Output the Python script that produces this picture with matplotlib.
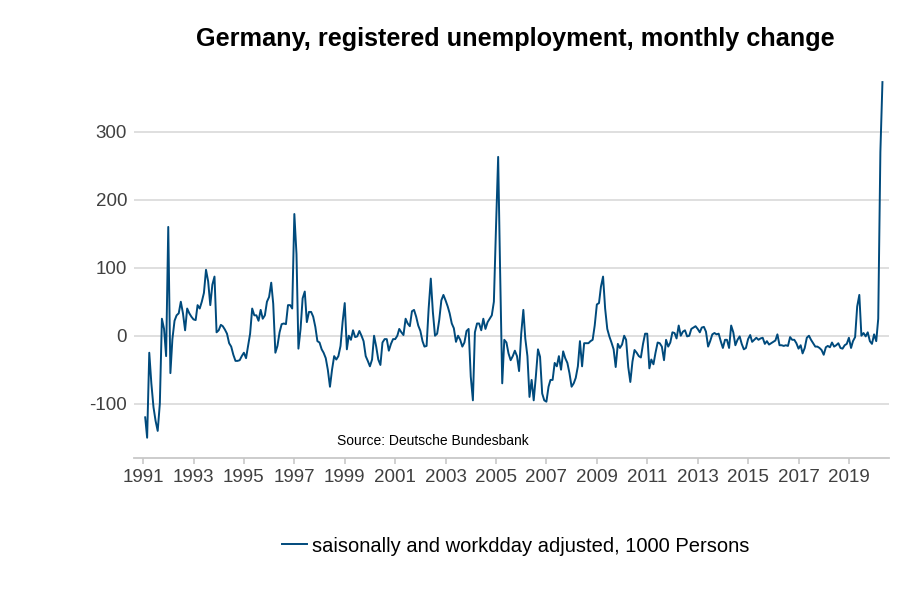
import matplotlib
matplotlib.use("Agg")
import matplotlib.pyplot as plt
import numpy as np
import pandas as pd

# monthly change of registered unemployment, 1000 persons
# 1991 starts in February
chg_1990s = [
    -120, -150, -25, -70, -105, -125, -140, -100, 25, 10, -30,           # 1991
    160, -55, -5, 22, 30, 33, 50, 33, 8, 40, 33, 28,                      # 1992
    24, 23, 45, 40, 50, 63, 97, 80, 45, 75, 87, 5,                        # 1993
    8, 16, 14, 9, 3, -11, -16, -28, -37, -37, -36, -30,                   # 1994
    -25, -33, -16, 3, 40, 30, 30, 22, 38, 25, 30, 50,                     # 1995
    57, 78, 47, -25, -15, 5, 17, 18, 17, 45, 45, 40,                      # 1996
    179, 120, -19, 10, 55, 65, 20, 35, 35, 28, 13, -8,                    # 1997
    -10, -20, -25, -33, -50, -75, -50, -30, -35, -30, -15, 20,            # 1998
    48, -20, 0, -6, 8, -2, -1, 7, 0, -8, -30, -37,                        # 1999
]
chg_2000s = [
    -45, -35, 0, -16, -35, -43, -10, -5, -5, -22, -12, -5,                # 2000
    -5, 0, 10, 5, 1, 25, 18, 14, 36, 38, 28, 15,                          # 2001
    7, -8, -16, -15, 40, 84, 35, 0, 3, 23, 52, 60,                        # 2002
    52, 43, 33, 18, 11, -9, 0, -6, -16, -10, 7, 10,                       # 2003
    -60, -95, 5, 18, 18, 8, 25, 10, 20, 25, 30, 50,                       # 2004
    160, 263, 97, -70, -6, -10, -26, -36, -30, -22, -30, -52,             # 2005
    3, 38, -4, -30, -90, -65, -95, -60, -20, -31, -85, -95,               # 2006
    -97, -75, -65, -65, -40, -45, -30, -50, -23, -33, -40, -55,           # 2007
    -75, -70, -62, -45, -8, -45, -11, -11, -11, -8, -6, 15,               # 2008
    46, 48, 72, 87, 40, 10, -1, -10, -20, -46, -12, -18,                  # 2009
]
chg_2010s = [
    -13, 0, -6, -46, -68, -38, -21, -25, -30, -32, -12, 3,                # 2010
    3, -48, -35, -42, -25, -10, -11, -16, -36, -6, -16, -10,              # 2011
    5, 4, -4, 15, 0, 6, 8, -1, 0, 10, 12, 14,                             # 2012
    10, 5, 12, 13, 6, -16, -8, 2, 4, 2, 3, -8,                            # 2013
    -18, -6, -6, -18, 15, 5, -14, -6, -1, -12, -20, -18,                  # 2014
    -5, 1, -9, -6, -3, -6, -4, -3, -12, -8, -13, -11,                     # 2015
    -9, -7, 2, -14, -14, -15, -14, -15, -2, -6, -6, -11,                  # 2016
    -19, -14, -26, -18, -3, 0, -6, -11, -16, -16, -18, -21,               # 2017
    -28, -17, -15, -17, -10, -16, -14, -11, -18, -19, -14, -12,           # 2018
    -3, -18, -8, -2, 43, 60, 0, 4, -1, 5, -8, -12,                        # 2019
]
chg_2020 = [2, -8, 25, 270, 373]

yticks = [-100, 0, 100, 200, 300]
tick_years = list(range(1991, 2021, 2))

TITLE = "Germany, registered unemployment, monthly change"
SOURCE = "Source: Deutsche Bundesbank"
SERIES = "saisonally and workdday adjusted, 1000 Persons"

LINE_COLOR = "#004A7C"
TEXT_GREY = "#404040"
GRID_GREY = "#D9D9D9"

plt.rcParams["font.family"] = ["Liberation Sans", "DejaVu Sans"]

values = np.array(chg_1990s + chg_2000s + chg_2010s + chg_2020, dtype=float)
dates = pd.date_range("1991-02-01", periods=len(values), freq="MS")

fig = plt.figure(figsize=(9.08, 6.04), dpi=100)
ax = fig.add_axes([0.1476, 0.2422, 0.8314, 0.6336])

ax.plot(dates, values, color=LINE_COLOR, lw=1.4, label=SERIES)

ax.set_ylim(-179.4, 383.4)
ax.set_xlim(pd.Timestamp("1990-08-23"), pd.Timestamp("2020-08-03"))

ax.set_yticks(yticks)
ax.set_yticklabels([str(v) for v in yticks])
ax.set_xticks([pd.Timestamp(f"{y}-01-01") for y in tick_years])
ax.set_xticklabels([str(y) for y in tick_years])

ax.grid(axis="y", color=GRID_GREY, lw=1.2)
ax.set_axisbelow(True)
for side in ["top", "right", "left"]:
    ax.spines[side].set_visible(False)
ax.spines["bottom"].set_color("#C8C8C8")
ax.spines["bottom"].set_linewidth(1.3)

ax.tick_params(axis="y", length=0, pad=5, labelsize=13.5, labelcolor=TEXT_GREY)
ax.tick_params(axis="x", length=4, width=1.2, color="#C8C8C8", pad=4,
               labelsize=13.5, labelcolor=TEXT_GREY)

fig.text(0.567, 0.935, TITLE, ha="center", va="center",
         fontsize=18.2, fontweight="bold", color="black")
fig.text(0.477, 0.270, SOURCE, ha="center", va="center", fontsize=10, color="black")

fig.legend(loc="center", bbox_to_anchor=(0.568, 0.096), frameon=False,
           fontsize=14.5, handlelength=1.2, handletextpad=0.25)

fig.savefig("out.png", dpi=100)
